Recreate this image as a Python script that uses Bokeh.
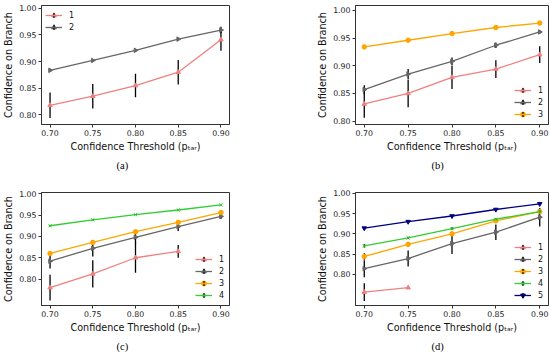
import numpy as np
from bokeh.plotting import figure
from bokeh.models import (Range1d, FixedTicker, NumeralTickFormatter, Title,
                          Legend, LegendItem)
from bokeh.layouts import gridplot
from bokeh.embed import file_html
from bokeh.resources import INLINE

thresholds = [0.70, 0.75, 0.80, 0.85, 0.90]
x_ticks = [0.70, 0.75, 0.80, 0.85, 0.90]
y_ticks = [0.80, 0.85, 0.90, 0.95, 1.00]
branch_labels = ["1", "2", "3", "4", "5"]
captions = ["(a)", "(b)", "(c)", "(d)"]

# (a) two branches
a_b1 = [0.818, 0.835, 0.855, 0.880, 0.941]
a_b1_err = [0.024, 0.023, 0.022, 0.023, 0.021]
a_b2 = [0.8835, 0.902, 0.921, 0.942, 0.959]
a_b2_err = [0.003, 0.002, 0.002, 0.002, 0.006]

# (b) three branches
b_b1 = [0.831, 0.850, 0.879, 0.894, 0.920]
b_b1_err = [0.025, 0.025, 0.021, 0.016, 0.015]
b_b2 = [0.857, 0.885, 0.908, 0.937, 0.961]
b_b2_err = [0.008, 0.009, 0.007, 0.005, 0.003]
b_b3 = [0.934, 0.946, 0.958, 0.969, 0.977]
b_b3_err = [0.001, 0.001, 0.001, 0.001, 0.001]

# (c) four branches
c_b1 = [0.780, 0.812, 0.850, 0.865]
c_b1_err = [0.030, 0.032, 0.035, 0.015]
c_b2 = [0.842, 0.872, 0.898, 0.923, 0.947]
c_b2_err = [0.017, 0.019, 0.015, 0.010, 0.006]
c_b3 = [0.860, 0.886, 0.911, 0.933, 0.956]
c_b3_err = [0.004, 0.003, 0.003, 0.002, 0.002]
c_b4 = [0.925, 0.939, 0.951, 0.962, 0.974]
c_b4_err = [0.002, 0.001, 0.001, 0.001, 0.001]

# (d) five branches
d_b1 = [0.756, 0.767]
d_b1_err = [0.022, 0.002]
d_b2 = [0.814, 0.839, 0.876, 0.904, 0.941]
d_b2_err = [0.021, 0.020, 0.026, 0.019, 0.023]
d_b3 = [0.844, 0.874, 0.900, 0.932, 0.955]
d_b3_err = [0.008, 0.006, 0.005, 0.004, 0.004]
d_b4 = [0.870, 0.890, 0.913, 0.936, 0.955]
d_b4_err = [0.004, 0.003, 0.003, 0.002, 0.002]
d_b5 = [0.914, 0.930, 0.944, 0.960, 0.974]
d_b5_err = [0.002, 0.002, 0.002, 0.001, 0.001]

COLORS = ["#F08080", "#666666", "#FFA500", "#32CD32", "#000080"]
MARKERS = [("triangle", 0.0, 4.5), ("triangle", -np.pi / 2, 4.5), ("circle", 0.0, 4.5),
           ("x", 0.0, 4.5), ("inverted_triangle", 0.0, 4.5)]

FONT = "DejaVu Sans"
AX = "#333333"


def make_panel(series, y_lo, y_hi, loc, caption, width, left, right, top, bottom, cap_offset):
    p = figure(width=width, height=182, x_range=Range1d(0.69, 0.91),
               y_range=Range1d(y_lo, y_hi), output_backend="svg",
               toolbar_location=None, min_border_left=left, min_border_right=right,
               min_border_top=top, min_border_bottom=bottom)
    p.background_fill_color = "white"
    p.border_fill_color = "white"
    p.outline_line_color = AX
    p.outline_line_width = 1
    p.xgrid.grid_line_color = None
    p.ygrid.grid_line_color = None
    for ax in (p.xaxis[0], p.yaxis[0]):
        ax.axis_line_color = AX
        ax.major_tick_line_color = AX
        ax.minor_tick_line_color = None
        ax.major_tick_in = 0
        ax.major_tick_out = 3
        ax.major_label_text_font = FONT
        ax.major_label_text_font_size = "7.8px"
        ax.major_label_text_color = "#222222"
        ax.axis_label_text_font = FONT
        ax.axis_label_text_font_size = "9.6px"
        ax.axis_label_text_font_style = "normal"
        ax.axis_label_text_color = "#111111"
        ax.major_label_standoff = 2
        ax.axis_label_standoff = 2
        ax.formatter = NumeralTickFormatter(format="0.00")
    p.xaxis.ticker = FixedTicker(ticks=x_ticks)
    p.yaxis.ticker = FixedTicker(ticks=y_ticks)
    p.xaxis.axis_label = "Confidence Threshold (p\u209c\u2090\u1d63)"
    p.yaxis.axis_label = "Confidence on Branch"

    items = []
    for i, (ys, errs) in enumerate(series):
        xs = thresholds[:len(ys)]
        color = COLORS[i]
        mk, ang, sz = MARKERS[i]
        lo = [y - e for y, e in zip(ys, errs)]
        hi = [y + e for y, e in zip(ys, errs)]
        ln = p.line(xs, ys, line_color=color, line_width=1.3)
        p.segment(x0=xs, y0=lo, x1=xs, y1=hi, line_color="black", line_width=1.3)
        sc = p.scatter(xs, ys, marker=mk, angle=ang, size=sz, fill_color=color,
                       line_color=color, line_width=1)
        # legend-only glyph: the black error-bar tick shown in each legend entry
        eb = p.scatter(xs, ys, marker="cross", size=8, line_color="black",
                       line_width=1.2, fill_color=None, visible=False)
        items.append(LegendItem(label=branch_labels[i], renderers=[sc, eb, ln]))

    leg = Legend(items=items, location=loc)
    leg.click_policy = "none"
    leg.inactive_fill_alpha = 0.0
    leg.border_line_color = None
    leg.background_fill_alpha = 0.0
    leg.label_text_font = FONT
    leg.label_text_font_size = "8px"
    leg.label_text_color = "#111111"
    leg.glyph_width = 17
    leg.glyph_height = 12
    leg.label_height = 12
    leg.label_width = 6
    leg.spacing = 0
    leg.padding = 0
    leg.margin = 4
    leg.label_standoff = 7
    p.add_layout(leg)

    t = Title(text=caption, align="left", offset=cap_offset, text_font="Liberation Serif",
              text_font_size="10.5px", text_font_style="normal", text_color="black",
              standoff=6)
    p.add_layout(t, "below")
    return p


pa = make_panel([(a_b1, a_b1_err), (a_b2, a_b2_err)], 0.782, 1.005, "top_left",
                captions[0], 275, 38, 46, 5, 58, 75)
pb = make_panel([(b_b1, b_b1_err), (b_b2, b_b2_err), (b_b3, b_b3_err)], 0.794, 1.0087,
                "bottom_right", captions[1], 275, 80, 2, 5, 58, 76)
pc = make_panel([(c_b1, c_b1_err), (c_b2, c_b2_err), (c_b3, c_b3_err), (c_b4, c_b4_err)],
                0.738, 1.003, "bottom_right", captions[2], 275, 38, 46, 10, 59, 75)
pd_ = make_panel([(d_b1, d_b1_err), (d_b2, d_b2_err), (d_b3, d_b3_err), (d_b4, d_b4_err),
                  (d_b5, d_b5_err)], 0.723, 1.002, "bottom_right", captions[3], 275, 80, 2,
                 10, 59, 76)

grid = gridplot([[pa, pb], [pc, pd_]], toolbar_location=None)

open("out.html", "w").write(file_html(grid, INLINE))
